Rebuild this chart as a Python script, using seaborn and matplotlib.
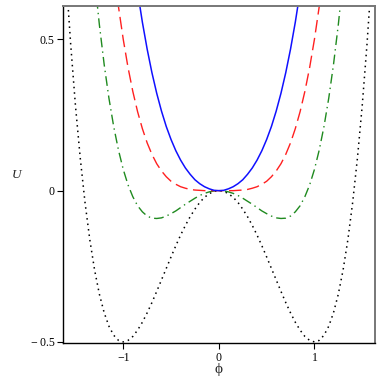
import matplotlib
matplotlib.use("Agg")
from matplotlib import pyplot as plt
import numpy as np
import pandas as pd
import seaborn as sns

# potential U(phi) on a 0.05 step in phi
# blue: phi from -1.0 to 1.0
u_blue = [1.050, 0.904, 0.774, 0.658, 0.557, 0.468, 0.390, 0.322, 0.263, 0.212, 0.169,
          0.132, 0.101, 0.075, 0.054, 0.036, 0.023, 0.013, 0.006, 0.001, 0.0,
          0.001, 0.006, 0.013, 0.023, 0.036, 0.054, 0.075, 0.101, 0.132, 0.169,
          0.212, 0.263, 0.322, 0.390, 0.468, 0.557, 0.658, 0.774, 0.904, 1.050]

# red: phi from -1.15 to 1.15
u_red = [0.875, 0.732, 0.608, 0.500, 0.407, 0.328, 0.261, 0.205, 0.158, 0.120, 0.089,
         0.065, 0.046, 0.031, 0.021, 0.013, 0.008, 0.004, 0.002, 0.001, 0.000, 0.000,
         0.000, 0.0, 0.000, 0.000, 0.000, 0.001, 0.002, 0.004, 0.008, 0.013, 0.021,
         0.031, 0.046, 0.065, 0.089, 0.120, 0.158, 0.205, 0.261, 0.328, 0.407, 0.500,
         0.608, 0.732, 0.875]

# green: phi from -1.35 to 1.35
u_green = [0.877, 0.701, 0.549, 0.418, 0.306, 0.212, 0.134, 0.070, 0.019, -0.020, -0.050,
           -0.070, -0.084, -0.091, -0.092, -0.090, -0.084, -0.076, -0.067, -0.056, -0.045,
           -0.035, -0.025, -0.016, -0.009, -0.004, -0.001, 0.0,
           -0.001, -0.004, -0.009, -0.016, -0.025, -0.035, -0.045, -0.056, -0.067, -0.076,
           -0.084, -0.090, -0.092, -0.091, -0.084, -0.070, -0.050, -0.020, 0.019, 0.070,
           0.134, 0.212, 0.306, 0.418, 0.549, 0.701, 0.877]

# black: phi from -1.65 to 1.65
u_black = [0.984, 0.717, 0.484, 0.281, 0.108, -0.039, -0.162, -0.262, -0.342, -0.403, -0.448,
           -0.478, -0.495, -0.500, -0.495, -0.482, -0.461, -0.435, -0.404, -0.370, -0.333,
           -0.295, -0.257, -0.219, -0.182, -0.147, -0.115, -0.086, -0.061, -0.039, -0.022,
           -0.010, -0.002, 0.0,
           -0.002, -0.010, -0.022, -0.039, -0.061, -0.086, -0.115, -0.147, -0.182, -0.219,
           -0.257, -0.295, -0.333, -0.370, -0.404, -0.435, -0.461, -0.482, -0.495, -0.500,
           -0.495, -0.478, -0.448, -0.403, -0.342, -0.262, -0.162, -0.039, 0.108, 0.281,
           0.484, 0.717, 0.984]

x_ticks = [-1, 0, 1]
x_tick_labels = ['\u22121', '0', '1']
y_ticks = [-0.5, 0, 0.5]
y_tick_labels = ['\u2212\u20090.5', '0', '0.5']


def phi_grid(values, step=0.05):
    # symmetric phi samples that go with a list of values
    n = (len(values) - 1) // 2
    return np.round(np.arange(-n, n + 1) * step, 2)


sns.set_style('white')
plt.rcParams['font.family'] = ['Liberation Serif', 'DejaVu Serif']

fig = plt.figure(figsize=(3.82, 3.82), dpi=100)
ax = fig.add_axes([0.165, 0.101, 0.817, 0.883])

curves = [
    (u_black, 'black', (0, (1, 2.6)), 1.1),
    (u_green, '#1f8a1f', (0, (7, 3, 1, 3)), 1.0),
    (u_red, '#ff2020', (0, (9, 4)), 1.0),
    (u_blue, '#1010ff', '-', 1.1),
]
for u, col, ls, lw in curves:
    df = pd.DataFrame({'phi': phi_grid(u), 'U': u})
    sns.lineplot(data=df, x='phi', y='U', color=col, lw=lw, linestyle=ls,
                 sort=False, ax=ax)

ax.set_xlim(-1.63, 1.635)
ax.set_ylim(-0.505, 0.61)

ax.set_xticks(x_ticks)
ax.set_xticklabels(x_tick_labels)
ax.set_yticks(y_ticks)
ax.set_yticklabels(y_tick_labels)
ax.tick_params(bottom=True, left=True, direction='out', length=4, width=0.8,
               labelsize=8.5, colors='black', pad=2)

for side in ['left', 'bottom']:
    ax.spines[side].set_color('black')
    ax.spines[side].set_linewidth(1.0)
for side in ['top', 'right']:
    ax.spines[side].set_color('#777777')
    ax.spines[side].set_linewidth(1.4)

ax.set_xlabel('\u03d5', fontsize=11, va='bottom', ha='center')
ax.xaxis.set_label_coords(0.499, -0.096)
ax.set_ylabel('U', fontsize=9.5, style='italic', rotation=0, va='center', ha='center')
ax.yaxis.set_label_coords(-0.15, 0.5)

fig.savefig('out.png', dpi=100)
